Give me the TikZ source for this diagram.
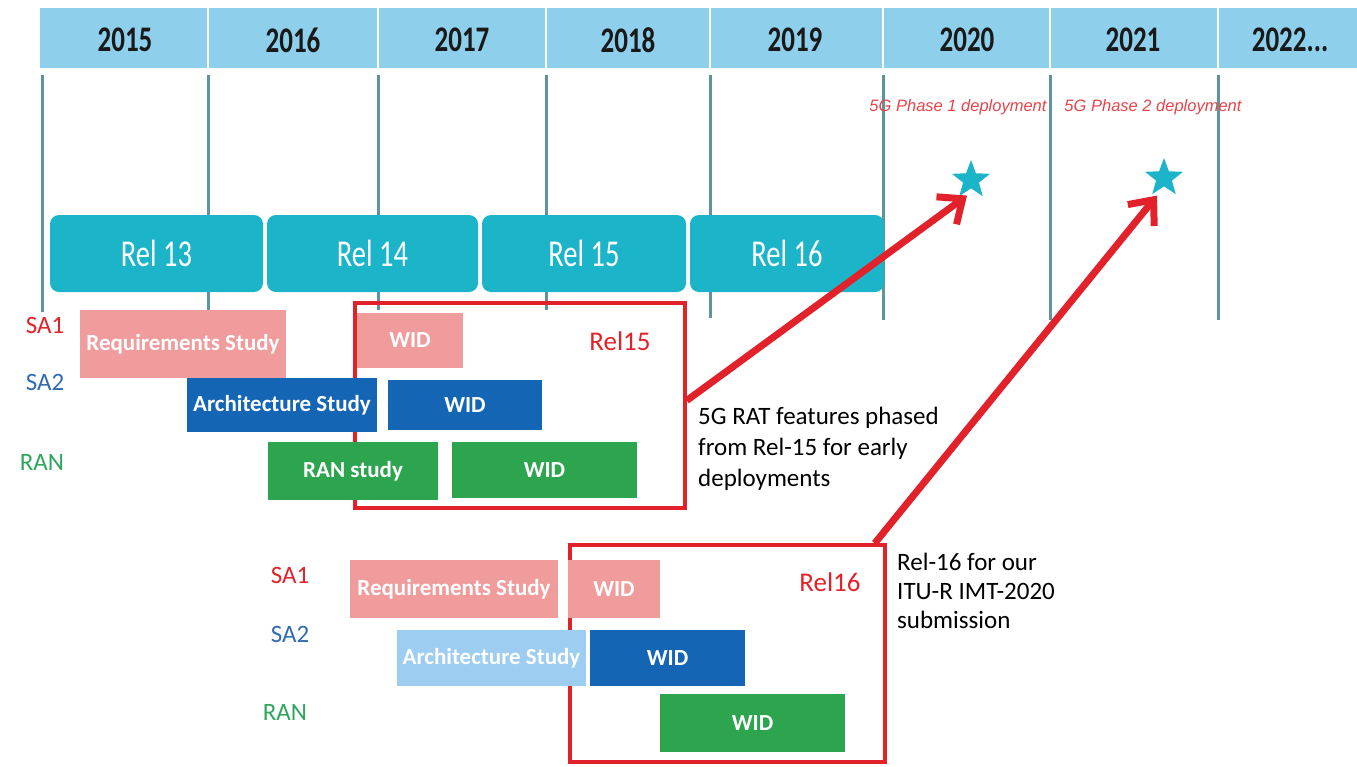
\documentclass[tikz,border=0pt]{standalone}
\usepackage{fontspec}
\setmainfont{Carlito}
\newfontfamily\yearfont[FakeStretch=0.75]{Carlito}
\newfontfamily\phasefont{Liberation Sans}
\usetikzlibrary{shapes.geometric,arrows.meta}
\newcommand{\fs}[1]{\fontsize{#1}{#1}\selectfont}

\tikzset{
  bar/.style={inner sep=0pt, text=white, font=\fs{23}\bfseries},
  relbox/.style={fill=relteal, rounded corners=9pt, minimum height=77pt,
    inner sep=0pt, text=white, font=\yearfont\fs{38}},
  yearlbl/.style={font=\yearfont\fs{36}\bfseries, text=black!90},
  gridline/.style={draw=gridteal, line width=3pt},
  grplbl/.style={font=\fs{25}},
  redbox/.style={draw=relred, line width=3.5pt, inner sep=0pt},
  redarrow/.style={draw=relred, line width=7pt,
    -{Straight Barb[length=20pt,width=34pt,line width=7pt]}},
  note/.style={font=\fs{25}, align=left, anchor=west, inner sep=0pt},
  phase/.style={font=\phasefont\itshape\fs{16.5}, text=relred!85}
}

\begin{document}
\begin{tikzpicture}[x=1pt,y=-1pt]
  \definecolor{hdrblue}{HTML}{8ECFEB}
  \definecolor{gridteal}{HTML}{5E93A0}
  \definecolor{relteal}{HTML}{1CB4C8}
  \definecolor{pinkbar}{HTML}{F09B9C}
  \definecolor{darkbar}{HTML}{1565B5}
  \definecolor{lightbar}{HTML}{9DCDF0}
  \definecolor{greenbar}{HTML}{2DA54F}
  \definecolor{relred}{HTML}{E2222A}
  \definecolor{sablue}{HTML}{2F6BB3}
  \definecolor{rangreen}{HTML}{2EA55B}
  \useasboundingbox (0,0) rectangle (1357,766);

  % year header
  \fill[hdrblue] (40,8) rectangle (1357,68);
  \foreach \x in {208,378,546,710,883,1050,1218}
    \draw[white, line width=1.5pt] (\x,8) -- (\x,68);
  \foreach \x/\yr [count=\i] in {125/2015,293/2016,462/2017,628/2018,795/2019,967/2020,1133/2021,1290/{2022{.}{.}{.}}}
    \node[yearlbl] (yr\i) at (\x,40) {\yr};

  % grid
  \foreach \x/\yb in {42/312,208/310,378/310,546/310,710/318,883/320,1050/320,1218/320}
    \draw[gridline] (\x,75) -- (\x,\yb);

  % releases
  \node[relbox, minimum width=213pt] (rel13) at (156.5,253.5) {Rel 13};
  \node[relbox, minimum width=211pt] (rel14) at (372.5,253.5) {Rel 14};
  \node[relbox, minimum width=204pt] (rel15) at (584,253.5) {Rel 15};
  \node[relbox, minimum width=194pt] (rel16) at (787,253.5) {Rel 16};

  % deployments
  \node[phase] (ph1) at (958,107) {5G Phase 1 deployment};
  \node[phase] (ph2) at (1153,107) {5G Phase 2 deployment};
  \node[star, star points=5, star point ratio=2.4, fill=relteal, inner sep=0pt, minimum size=40pt] (star1) at (971,180) {};
  \node[star, star points=5, star point ratio=2.4, fill=relteal, inner sep=0pt, minimum size=40pt] (star2) at (1164,178) {};

  % Rel15 group
  \node[redbox, minimum width=330pt, minimum height=205pt] (rel15box) at (520,405.5) {};
  \node[font=\fs{27}, text=relred] (lbl15) at (620,341) {Rel15};
  \node[grplbl, text=relred] (sa1a) at (45,325) {SA1};
  \node[grplbl, text=sablue] (sa2a) at (45,382) {SA2};
  \node[grplbl, text=rangreen] (rana) at (42,462) {RAN};
  \node[bar, fill=pinkbar, minimum width=206pt, minimum height=68pt] (req1) at (183,344) {Requirements Study};
  \node[bar, fill=pinkbar, minimum width=106pt, minimum height=55pt] (wid1a) at (410,340.5) {WID};
  \node[bar, fill=darkbar, minimum width=190pt, minimum height=54pt] (arch1) at (282,405) {Architecture Study};
  \node[bar, fill=darkbar, minimum width=154pt, minimum height=50pt] (wid1b) at (465,405) {WID};
  \node[bar, fill=greenbar, minimum width=170pt, minimum height=58pt] (ran1) at (353,471) {RAN study};
  \node[bar, fill=greenbar, minimum width=185pt, minimum height=56pt] (wid1c) at (544.5,470) {WID};

  % Rel16 group
  \node[redbox, minimum width=315pt, minimum height=217pt] (rel16box) at (727.5,653.5) {};
  \node[font=\fs{27}, text=relred] (lbl16) at (830,582) {Rel16};
  \node[grplbl, text=relred] (sa1b) at (290,575) {SA1};
  \node[grplbl, text=sablue] (sa2b) at (290,634) {SA2};
  \node[grplbl, text=rangreen] (ranb) at (285,712) {RAN};
  \node[bar, fill=pinkbar, minimum width=208pt, minimum height=58pt] (req2) at (454,589) {Requirements Study};
  \node[bar, fill=pinkbar, minimum width=92pt, minimum height=58pt] (wid2a) at (614,589) {WID};
  \node[bar, fill=lightbar, minimum width=189pt, minimum height=56pt] (arch2) at (491.5,658) {Architecture Study};
  \node[bar, fill=darkbar, minimum width=155pt, minimum height=56pt] (wid2b) at (667.5,658) {WID};
  \node[bar, fill=greenbar, minimum width=185pt, minimum height=58pt] (wid2c) at (752.5,723) {WID};

  % notes
  \node[note] (note15) at (698,449) {5G RAT features phased\\[6pt]from Rel-15 for early\\[6pt]deployments};
  \node[note] (note16) at (897,591) {Rel-16 for our\\[4pt]ITU-R IMT-2020\\[4pt]submission};

  % arrows
  \draw[redarrow] ([yshift=5pt]rel15box.east) -- ([shift={(-4pt,-7pt)}]star1.south);
  \draw[redarrow] ([xshift=-12pt]rel16box.north east) -- ([shift={(-7pt,-9pt)}]star2.south);
\end{tikzpicture}
\end{document}
